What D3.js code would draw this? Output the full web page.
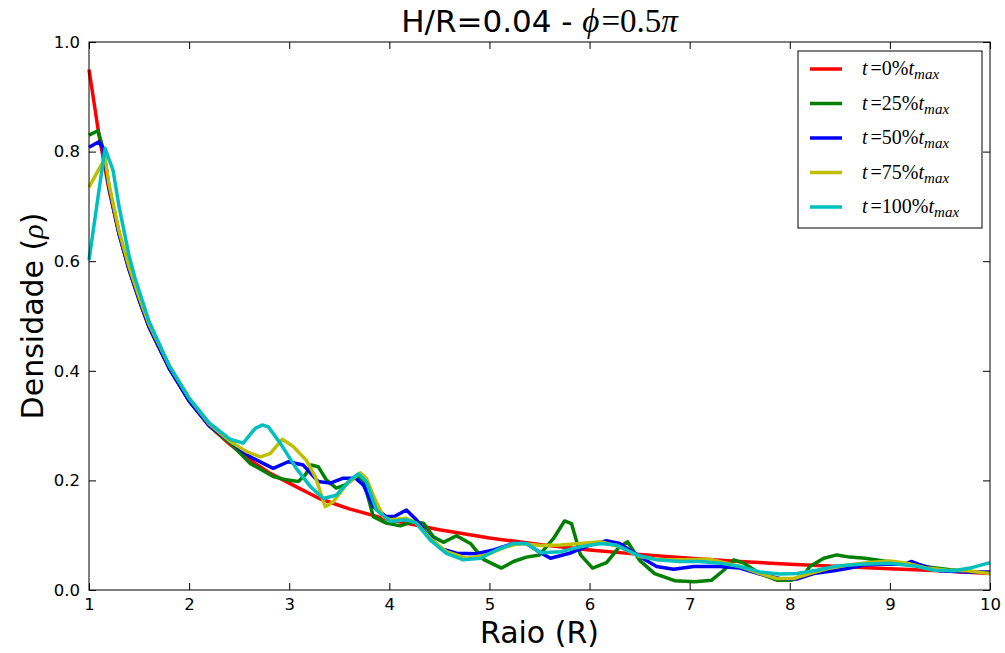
<!DOCTYPE html>
<html>
<head>
<meta charset="utf-8">
<script src="https://cdn.jsdelivr.net/npm/d3@7"></script>
<style>
  body { margin: 0; background: #fff; }
  svg { display: block; }
</style>
</head>
<body>
<svg></svg>
<script>
var width = 1005;
var height = 653;

// data: radius (R) and density (rho) per snapshot
var raio0 = [1.0, 1.1, 1.2, 1.3, 1.4, 1.5, 1.6, 1.8, 2.0, 2.2,
    2.4, 2.6, 2.8, 3.0, 3.3, 3.6, 4.0, 4.5, 5.0, 5.5,
    6.0, 6.5, 7.0, 7.5, 8.0, 8.5, 9.0, 9.5, 10.0];
var dens0 = [0.95, 0.83, 0.73, 0.65, 0.585, 0.53, 0.48, 0.405, 0.345, 0.30,
    0.267, 0.238, 0.214, 0.195, 0.167, 0.148, 0.128, 0.110, 0.095, 0.083,
    0.073, 0.065, 0.058, 0.052, 0.047, 0.043, 0.039, 0.035, 0.030];

var raio25 = [1.0, 1.09, 1.14, 1.2, 1.3, 1.4, 1.5, 1.6, 1.8, 2.0,
    2.2, 2.41, 2.61, 2.84, 2.97, 3.09, 3.16, 3.22, 3.29, 3.37,
    3.47, 3.56, 3.67, 3.74, 3.84, 3.97, 4.11, 4.24, 4.34, 4.44,
    4.54, 4.67, 4.81, 4.94, 5.12, 5.24, 5.37, 5.5, 5.64, 5.75,
    5.82, 5.91, 6.03, 6.17, 6.30, 6.38, 6.50, 6.65, 6.85, 7.05,
    7.22, 7.34, 7.44, 7.54, 7.70, 7.87, 8.02, 8.14, 8.20, 8.34,
    8.47, 8.60, 8.75, 8.94, 9.1, 9.3, 9.6, 10.0];
var dens25 = [0.83, 0.838, 0.806, 0.735, 0.65, 0.585, 0.53, 0.48, 0.405, 0.345,
    0.30, 0.268, 0.231, 0.207, 0.201, 0.198, 0.210, 0.228, 0.225, 0.201,
    0.186, 0.192, 0.207, 0.201, 0.134, 0.122, 0.117, 0.125, 0.122, 0.097,
    0.087, 0.099, 0.085, 0.056, 0.040, 0.052, 0.060, 0.064, 0.094, 0.126,
    0.121, 0.064, 0.040, 0.050, 0.079, 0.088, 0.054, 0.030, 0.017, 0.015,
    0.018, 0.036, 0.055, 0.049, 0.030, 0.018, 0.018, 0.027, 0.043, 0.058,
    0.064, 0.060, 0.058, 0.053, 0.049, 0.044, 0.037, 0.031];

var raio50 = [1.0, 1.10, 1.14, 1.2, 1.3, 1.4, 1.5, 1.6, 1.8, 2.0,
    2.2, 2.41, 2.61, 2.84, 2.99, 3.14, 3.29, 3.41, 3.54, 3.66,
    3.74, 3.84, 3.97, 4.05, 4.17, 4.27, 4.37, 4.51, 4.67, 4.87,
    5.04, 5.24, 5.37, 5.51, 5.61, 5.80, 6.00, 6.17, 6.30, 6.50,
    6.67, 6.84, 7.04, 7.30, 7.50, 7.70, 7.90, 8.07, 8.24, 8.44,
    8.60, 8.75, 8.94, 9.14, 9.22, 9.30, 9.50, 9.77, 10.0];
var dens50 = [0.808, 0.818, 0.806, 0.735, 0.65, 0.585, 0.53, 0.48, 0.405, 0.345,
    0.30, 0.271, 0.243, 0.222, 0.234, 0.228, 0.198, 0.195, 0.204, 0.204,
    0.192, 0.152, 0.134, 0.134, 0.146, 0.128, 0.103, 0.076, 0.067, 0.066,
    0.073, 0.085, 0.085, 0.068, 0.058, 0.067, 0.082, 0.090, 0.085, 0.061,
    0.043, 0.038, 0.043, 0.043, 0.040, 0.029, 0.021, 0.020, 0.030, 0.035,
    0.040, 0.046, 0.047, 0.047, 0.052, 0.046, 0.035, 0.033, 0.033];

var raio75 = [1.0, 1.16, 1.2, 1.3, 1.4, 1.5, 1.6, 1.8, 2.0, 2.2,
    2.41, 2.58, 2.71, 2.81, 2.93, 3.04, 3.17, 3.26, 3.36, 3.44,
    3.57, 3.71, 3.77, 3.86, 3.94, 4.01, 4.17, 4.27, 4.41, 4.57,
    4.77, 4.97, 5.17, 5.31, 5.51, 5.71, 5.91, 6.11, 6.30, 6.50,
    6.71, 6.94, 7.20, 7.50, 7.70, 7.87, 8.04, 8.20, 8.40, 8.60,
    8.80, 9.00, 9.17, 9.37, 9.57, 9.77, 10.0];
var dens75 = [0.735, 0.788, 0.74, 0.655, 0.59, 0.535, 0.485, 0.41, 0.35, 0.303,
    0.271, 0.252, 0.243, 0.249, 0.275, 0.262, 0.237, 0.207, 0.152, 0.161,
    0.192, 0.214, 0.204, 0.164, 0.134, 0.128, 0.131, 0.122, 0.094, 0.070,
    0.058, 0.064, 0.079, 0.085, 0.081, 0.082, 0.085, 0.088, 0.079, 0.061,
    0.055, 0.055, 0.056, 0.043, 0.030, 0.021, 0.021, 0.030, 0.040, 0.046,
    0.050, 0.053, 0.049, 0.040, 0.036, 0.035, 0.030];

var raio100 = [1.0, 1.16, 1.24, 1.3, 1.4, 1.46, 1.6, 1.8, 2.0, 2.2,
    2.41, 2.54, 2.66, 2.73, 2.79, 2.91, 3.07, 3.21, 3.34, 3.47,
    3.61, 3.69, 3.77, 3.87, 4.01, 4.17, 4.27, 4.41, 4.57, 4.74,
    4.91, 5.07, 5.24, 5.37, 5.51, 5.71, 5.91, 6.11, 6.27, 6.47,
    6.67, 6.90, 7.10, 7.30, 7.50, 7.70, 7.90, 8.07, 8.27, 8.47,
    8.70, 9.00, 9.24, 9.44, 9.64, 9.80, 10.0];
var dens100 = [0.602, 0.806, 0.766, 0.70, 0.61, 0.569, 0.49, 0.41, 0.35, 0.305,
    0.275, 0.268, 0.295, 0.301, 0.298, 0.268, 0.222, 0.189, 0.167, 0.173,
    0.201, 0.212, 0.198, 0.146, 0.125, 0.128, 0.122, 0.091, 0.067, 0.055,
    0.058, 0.073, 0.085, 0.085, 0.068, 0.070, 0.079, 0.085, 0.082, 0.064,
    0.055, 0.052, 0.052, 0.049, 0.043, 0.033, 0.029, 0.030, 0.036, 0.044,
    0.047, 0.049, 0.044, 0.036, 0.035, 0.040, 0.050];

var percents = ['0', '25', '50', '75', '100'];
var colors = ['#ff0000', '#008000', '#0000ff', '#bfbf00', '#00bfbf'];
var xTicks = [1, 2, 3, 4, 5, 6, 7, 8, 9, 10];
var yTicks = [0.0, 0.2, 0.4, 0.6, 0.8, 1.0];

var series = [
    { raio: raio0, dens: dens0 },
    { raio: raio25, dens: dens25 },
    { raio: raio50, dens: dens50 },
    { raio: raio75, dens: dens75 },
    { raio: raio100, dens: dens100 }
];

var plotL = 89, plotR = 990, plotT = 42, plotB = 590;
var sans = 'DejaVu Sans, sans-serif';
var serif = 'Liberation Serif, DejaVu Serif, serif';

var svg = d3.select('svg')
    .attr('width', width)
    .attr('height', height);

svg.append('rect')
    .attr('width', width)
    .attr('height', height)
    .attr('fill', '#fff');

var x = d3.scaleLinear().domain([1, 10]).range([plotL, plotR]);
var y = d3.scaleLinear().domain([0, 1]).range([plotB, plotT]);

var line = d3.line()
    .x(function (d) { return x(d[0]); })
    .y(function (d) { return y(d[1]); });

// curves
svg.append('g')
    .selectAll('path')
    .data(series)
    .enter()
    .append('path')
    .attr('d', function (s) { return line(d3.zip(s.raio, s.dens)); })
    .attr('fill', 'none')
    .attr('stroke', function (s, i) { return colors[i]; })
    .attr('stroke-width', 3.5)
    .attr('stroke-linejoin', 'round');

// axes, ticks pointing inward on all four sides
var tk = 7;
var styleAxis = function (g) {
    g.select('.domain').remove();
    g.selectAll('.tick line').attr('stroke', '#000');
    g.selectAll('.tick text')
        .attr('fill', '#000')
        .attr('font-family', sans)
        .attr('font-size', 16.5);
};

svg.append('g')
    .attr('transform', 'translate(0,' + plotB + ')')
    .call(d3.axisBottom(x).tickValues(xTicks).tickSizeInner(-tk).tickSizeOuter(0)
        .tickPadding(8).tickFormat(d3.format('d')))
    .call(styleAxis);

svg.append('g')
    .attr('transform', 'translate(0,' + plotT + ')')
    .call(d3.axisTop(x).tickValues(xTicks).tickSizeInner(-tk).tickSizeOuter(0).tickFormat(''))
    .call(styleAxis);

svg.append('g')
    .attr('transform', 'translate(' + plotL + ',0)')
    .call(d3.axisLeft(y).tickValues(yTicks).tickSizeInner(-tk).tickSizeOuter(0)
        .tickPadding(9).tickFormat(d3.format('.1f')))
    .call(styleAxis);

svg.append('g')
    .attr('transform', 'translate(' + plotR + ',0)')
    .call(d3.axisRight(y).tickValues(yTicks).tickSizeInner(-tk).tickSizeOuter(0).tickFormat(''))
    .call(styleAxis);

svg.append('rect')
    .attr('x', plotL)
    .attr('y', plotT)
    .attr('width', plotR - plotL)
    .attr('height', plotB - plotT)
    .attr('fill', 'none')
    .attr('stroke', '#000')
    .attr('stroke-width', 1);

// title
var title = svg.append('text')
    .attr('x', (plotL + plotR) / 2)
    .attr('y', 32)
    .attr('text-anchor', 'middle')
    .attr('font-family', sans)
    .attr('font-size', 31);
title.append('tspan').text('H/R=0.04 - ');
title.append('tspan').attr('font-family', serif).attr('font-style', 'italic').attr('font-size', 33).text('\u03D5');
title.append('tspan').attr('font-family', serif).attr('font-size', 33).attr('dx', 2).text('=0.5');
title.append('tspan').attr('font-family', serif).attr('font-style', 'italic').attr('font-size', 33).text('\u03C0');

// axis labels
svg.append('text')
    .attr('x', (plotL + plotR) / 2)
    .attr('y', 643)
    .attr('text-anchor', 'middle')
    .attr('font-family', sans)
    .attr('font-size', 30)
    .text('Raio (R)');

var ylab = svg.append('text')
    .attr('transform', 'translate(43,' + ((plotT + plotB) / 2) + ') rotate(-90)')
    .attr('text-anchor', 'middle')
    .attr('font-family', sans)
    .attr('font-size', 30);
ylab.append('tspan').text('Densidade (');
ylab.append('tspan').attr('font-family', serif).attr('font-style', 'italic').text('\u03C1');
ylab.append('tspan').text(')');

// legend
var lg = svg.append('g');
lg.append('rect')
    .attr('x', 798)
    .attr('y', 51)
    .attr('width', 184)
    .attr('height', 177)
    .attr('fill', '#fff')
    .attr('stroke', '#000')
    .attr('stroke-width', 1);

var item = lg.selectAll('g.item')
    .data(percents)
    .enter()
    .append('g')
    .attr('class', 'item')
    .attr('transform', function (d, i) { return 'translate(0,' + (69 + i * 34.5) + ')'; });

item.append('line')
    .attr('x1', 810)
    .attr('x2', 842)
    .attr('stroke', function (d, i) { return colors[i]; })
    .attr('stroke-width', 3.5);

var lt = item.append('text')
    .attr('x', 862)
    .attr('y', 6)
    .attr('font-family', serif)
    .attr('font-size', 20);
lt.append('tspan').attr('font-style', 'italic').text('t');
lt.append('tspan').attr('dx', 3).text(function (d) { return '=' + d + '%'; });
lt.append('tspan').attr('font-style', 'italic').text('t');
lt.append('tspan').attr('font-style', 'italic').attr('font-size', 15).attr('dy', 4).text('max');
</script>
</body>
</html>
